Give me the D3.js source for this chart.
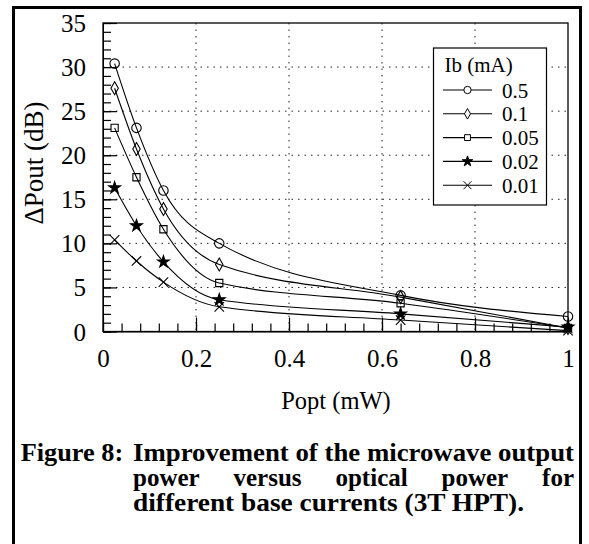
<!DOCTYPE html>
<html>
<head>
<meta charset="utf-8">
<script src="https://cdn.jsdelivr.net/npm/d3@7"></script>
<style>
  body { margin: 0; background: #fff; }
  text { font-family: "Liberation Serif", "Times New Roman", serif; fill: #000; }
</style>
</head>
<body>
<div id="chart"></div>
<script>
// optical power (mW) of each measurement
const popt = [0.025, 0.072, 0.13, 0.25, 0.64, 1.0];
// delta Pout (dB) for each base current
const ib = ['0.5', '0.1', '0.05', '0.02', '0.01'];
const dp05 = [30.4, 23.1, 16.0, 10.0, 4.1, 1.7];
const dp01 = [27.6, 20.7, 13.9, 7.6, 3.9, 0.4];
const dp005 = [23.1, 17.5, 11.6, 5.5, 3.2, 0.4];
const dp002 = [16.3, 12.0, 7.9, 3.6, 2.0, 0.5];
const dp001 = [10.4, 8.0, 5.6, 2.8, 1.3, 0.1];
const xTicks = [0, 0.2, 0.4, 0.6, 0.8, 1];
const yTicks = [0, 5, 10, 15, 20, 25, 30, 35];
const caption1 = ['Figure 8:', 'Improvement of the microwave output'];
const caption2 = ['power', 'versus', 'optical', 'power', 'for'];
const caption3 = 'different base currents (3T HPT).';

const series = [
  {label: ib[0], values: dp05, shape: 'circle'},
  {label: ib[1], values: dp01, shape: 'diamond'},
  {label: ib[2], values: dp005, shape: 'square'},
  {label: ib[3], values: dp002, shape: 'star'},
  {label: ib[4], values: dp001, shape: 'cross'}
];

let W = 589, H = 544;
let margin = {top: 23, right: 21, bottom: 212.5, left: 103};
let width = W - margin.left - margin.right;
let height = H - margin.top - margin.bottom;

let svg = d3.select('#chart').append('svg')
    .attr('width', W)
    .attr('height', H);

// outer frame
svg.append('rect')
    .attr('x', 13.5).attr('y', 7.5)
    .attr('width', 567).attr('height', 545)
    .attr('fill', 'none').attr('stroke', '#000').attr('stroke-width', 3);

let g = svg.append('g').attr('transform', 'translate(' + margin.left + ',' + margin.top + ')');

let x = d3.scaleLinear().domain([0, 1]).range([0, width]);
let y = d3.scaleLinear().domain([0, 35]).range([height, 0]);

// grid
g.selectAll('.vgrid').data(xTicks.slice(1, -1)).enter().append('line')
    .attr('x1', d => x(d)).attr('x2', d => x(d))
    .attr('y1', 0).attr('y2', height)
    .attr('stroke', '#222').attr('stroke-dasharray', '1.5,5');
g.selectAll('.hgrid').data(yTicks.slice(1, -1)).enter().append('line')
    .attr('x1', 0).attr('x2', width)
    .attr('y1', d => y(d)).attr('y2', d => y(d))
    .attr('stroke', '#222').attr('stroke-dasharray', '1.5,5');

// minor ticks
let xMinor = d3.axisBottom(x).tickValues(d3.range(0, 1.001, 0.04)).tickSize(-8).tickFormat('');
let yMinor = d3.axisLeft(y).tickValues(d3.range(0, 35.5, 1)).tickSize(-8).tickFormat('');
g.append('g').attr('transform', 'translate(0,' + height + ')').call(xMinor);
g.append('g').call(yMinor);

// major ticks and labels
let xAxisCall = d3.axisBottom(x).tickValues(xTicks).tickSize(-14).tickPadding(18).tickFormat(d => d);
let yAxisCall = d3.axisLeft(y).tickValues(yTicks).tickSize(-14).tickPadding(17);
let xg = g.append('g').attr('transform', 'translate(0,' + height + ')').call(xAxisCall);
let yg = g.append('g').call(yAxisCall);
[xg, yg].forEach(a => {
  a.selectAll('.domain').remove();
  a.selectAll('text').attr('font-size', 25).attr('fill', '#000');
});
yg.selectAll('text').attr('dy', '0.34em');
g.selectAll('.tick line').attr('stroke', '#000').attr('stroke-width', 1.2);

// plot frame
g.append('rect')
    .attr('width', width).attr('height', height)
    .attr('fill', 'none').attr('stroke', '#000').attr('stroke-width', 1.3);

// symbols
const symType = {
  circle: d3.symbolCircle, diamond: d3.symbolDiamond, square: d3.symbolSquare,
  star: d3.symbolStar, cross: d3.symbolTimes
};
function symbol(shape, big) {
  let sizes = big ? {circle: 70, diamond: 48, square: 52, star: 44, cross: 60}
                  : {circle: 42, diamond: 32, square: 34, star: 34, cross: 42};
  return d3.symbol().type(symType[shape]).size(sizes[shape])();
}

let line = d3.line()
    .x((d, i) => x(popt[i]))
    .y(d => y(d))
    .curve(d3.curveMonotoneX);

series.forEach(s => {
  g.append('path')
      .attr('d', line(s.values))
      .attr('fill', 'none').attr('stroke', '#000').attr('stroke-width', 1.1);
  g.selectAll(null).data(s.values).enter().append('path')
      .attr('transform', (d, i) => 'translate(' + x(popt[i]) + ',' + y(d) + ')')
      .attr('d', symbol(s.shape, true))
      .attr('fill', s.shape === 'star' ? '#000' : 'none')
      .attr('stroke', '#000').attr('stroke-width', 1.1);
});

// legend
let lg = svg.append('g').attr('transform', 'translate(433.5,48)');
lg.append('rect').attr('width', 113).attr('height', 157)
    .attr('fill', '#fff').attr('stroke', '#000').attr('stroke-width', 1.2);
lg.append('text').attr('x', 11).attr('y', 24).attr('font-size', 21).text('Ib (mA)');
series.forEach((s, i) => {
  let cy = 42 + i * 23.8;
  lg.append('line').attr('x1', 9.5).attr('x2', 58.5).attr('y1', cy).attr('y2', cy)
      .attr('stroke', '#000').attr('stroke-width', 1.1);
  lg.append('path').attr('transform', 'translate(34,' + cy + ')')
      .attr('d', symbol(s.shape, false))
      .attr('fill', s.shape === 'star' ? '#000' : '#fff')
      .attr('stroke', '#000').attr('stroke-width', 1);
  lg.append('text').attr('x', 68.5).attr('y', cy + 7.5).attr('font-size', 21).text(s.label);
});

// axis titles
svg.append('text')
    .attr('x', 336).attr('y', 409)
    .attr('text-anchor', 'middle').attr('font-size', 24.5)
    .text('Popt (mW)');
svg.append('text')
    .attr('transform', 'translate(43,163) rotate(-90)')
    .attr('text-anchor', 'middle').attr('font-size', 27)
    .text('\u0394Pout (dB)');

// caption
let cap = svg.append('g').attr('font-weight', 'bold').attr('font-size', 25);
cap.append('text').attr('x', 20.7).attr('y', 460.5).text(caption1[0])
    .attr('textLength', 102.5).attr('lengthAdjust', 'spacingAndGlyphs');
cap.append('text').attr('x', 133).attr('y', 460.5).text(caption1[1])
    .attr('textLength', 441).attr('lengthAdjust', 'spacingAndGlyphs');
let words = caption2.map(w => cap.append('text').attr('y', 485.5).text(w));
let wsum = d3.sum(words, t => t.node().getComputedTextLength());
let gap = (441 - wsum) / (words.length - 1);
let cx = 133;
words.forEach(t => { t.attr('x', cx); cx += t.node().getComputedTextLength() + gap; });
cap.append('text').attr('x', 133).attr('y', 510.5).text(caption3)
    .attr('textLength', 391).attr('lengthAdjust', 'spacingAndGlyphs');
</script>
</body>
</html>
